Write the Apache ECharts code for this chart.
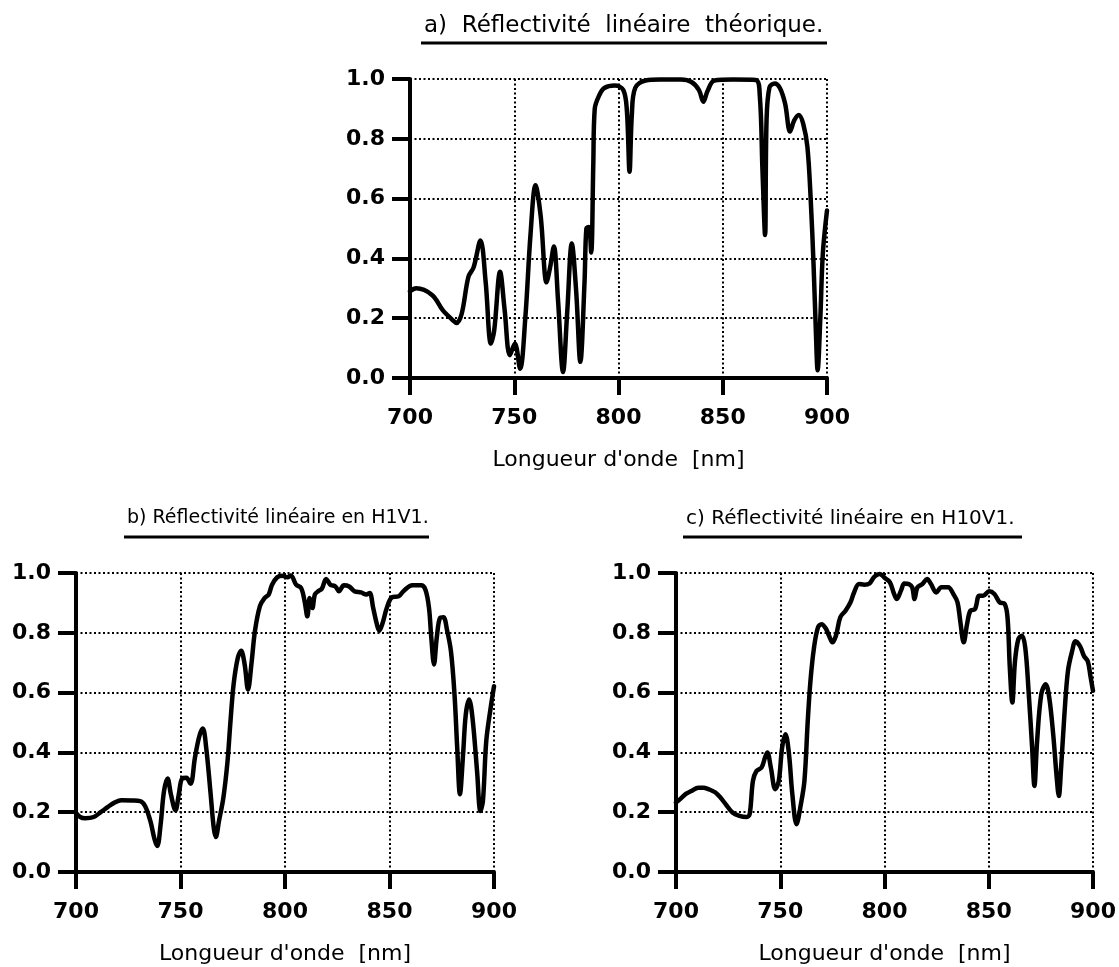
<!DOCTYPE html>
<html>
<head>
<meta charset="utf-8">
<script src="https://cdn.jsdelivr.net/npm/echarts@6/dist/echarts.min.js"></script>
<style>
    html, body { margin: 0; padding: 0; background: #fff; }
    #chart { width: 1119px; height: 967px; }
</style>
</head>
<body>
<div id="chart"></div>
<script>
// wavelength axis ticks (nm) and reflectivity ticks
var waveTicks = [700, 750, 800, 850, 900];
var reflTicks = [0.0, 0.2, 0.4, 0.6, 0.8, 1.0];

// a) theoretical linear reflectivity
var waveA = [700, 703, 710.7, 715.7, 720.6, 722.3, 724.8, 728, 730.5, 733.8, 736.3, 738.8, 740.4, 743.2, 745.4,
    747.9, 750.3, 752.8, 755.3, 757.8, 760.2, 762.7, 765.5, 767.2, 769, 771, 773.4, 775.4, 777.6, 779.7,
    781.7, 783.7, 784.6, 785.8, 786.9, 787.9, 788.6, 790.8, 793.2, 798.2, 802.3, 804, 805.3, 806.4, 808,
    813, 820, 830, 835, 838.6, 840.7, 842.7, 846, 855, 865.8, 867.8, 869, 870.3, 871, 872.4,
    874.9, 877.4, 879.9, 882.3, 884.3, 886.5, 888.6, 890.6, 892.2, 893.6, 894.7, 895.5, 896.8, 898, 900];
var reflA = [0.29, 0.30, 0.277, 0.227, 0.193, 0.184, 0.215, 0.338, 0.37, 0.46, 0.32, 0.115, 0.16, 0.355, 0.227,
    0.076, 0.115, 0.031, 0.20, 0.48, 0.645, 0.54, 0.32, 0.37, 0.44, 0.26, 0.02, 0.22, 0.45, 0.29,
    0.054, 0.32, 0.50, 0.505, 0.42, 0.71, 0.90, 0.946, 0.97, 0.978, 0.963, 0.896, 0.69, 0.88, 0.97,
    0.995, 0.998, 0.998, 0.99, 0.963, 0.924, 0.96, 0.995, 0.998, 0.997, 0.94, 0.706, 0.478, 0.86, 0.972,
    0.985, 0.97, 0.918, 0.824, 0.862, 0.88, 0.85, 0.773, 0.595, 0.37, 0.148, 0.026, 0.20, 0.416, 0.56];

// b) linear reflectivity in H1V1
var waveB = [700, 702, 704.4, 708.5, 711.8, 715.1, 718.4, 721.7, 726.6, 730.7, 733.1, 735.6, 737.6, 738.9, 740.5,
    742.1, 743.8, 745.4, 747.6, 749.2, 750.8, 752.8, 754.8, 756.9, 759, 760.7, 762.3, 764.3, 765.9, 766.9,
    768.4, 770.5, 772.5, 773.8, 775.4, 777.4, 779, 780.7, 782.3, 784, 785.6, 788, 790.2, 792.2, 793.8,
    796.3, 798.7, 801.2, 802.8, 805.3, 807.7, 809.4, 810.7, 811.8, 813.1, 814.3, 815.9, 817.6, 819.7, 821.7,
    824.1, 825.8, 828.2, 830.7, 833.2, 836.4, 838.9, 840.5, 842.2, 843.8, 845.1, 846.6, 848.7, 851.2, 854.4,
    856.9, 861, 865.1, 867.2, 868.9, 870, 871.3, 872.6, 874.2, 875.8, 877.5, 879.4, 881.1, 882.4, 883.7,
    885.2, 886.5, 888.1, 889.7, 891.9, 893.5, 894.7, 896.3, 898.4, 900];
var reflB = [0.198, 0.184, 0.18, 0.184, 0.20, 0.217, 0.232, 0.24, 0.239, 0.237, 0.22, 0.17, 0.109, 0.087, 0.16,
    0.27, 0.313, 0.26, 0.206, 0.26, 0.313, 0.315, 0.295, 0.382, 0.454, 0.48, 0.415, 0.27, 0.148, 0.117,
    0.17, 0.248, 0.37, 0.493, 0.627, 0.716, 0.74, 0.694, 0.61, 0.70, 0.805, 0.889, 0.916, 0.928, 0.961,
    0.986, 0.991, 0.986, 0.992, 0.961, 0.95, 0.905, 0.855, 0.916, 0.883, 0.928, 0.939, 0.947, 0.98, 0.961,
    0.955, 0.939, 0.959, 0.955, 0.939, 0.935, 0.928, 0.933, 0.883, 0.833, 0.807, 0.83, 0.883, 0.919, 0.922,
    0.941, 0.959, 0.959, 0.944, 0.883, 0.783, 0.694, 0.783, 0.85, 0.852, 0.81, 0.738, 0.594, 0.415, 0.26,
    0.393, 0.527, 0.577, 0.516, 0.337, 0.204, 0.237, 0.438, 0.549, 0.621];

// c) linear reflectivity in H10V1
var waveC = [700, 702.5, 704.9, 707.4, 710.7, 713.1, 715.6, 718.9, 721.3, 723.8, 727.1, 730.4, 733.7, 735.3, 736.9,
    738.6, 741, 742.7, 743.8, 745.5, 747.6, 749.3, 750.9, 752.5, 754.2, 755.8, 757.8, 759.9, 761.6, 763.2,
    764.5, 766.2, 768.1, 769.8, 771.8, 773.4, 775, 776.7, 778.8, 781.3, 783.7, 785.4, 787.8, 790.3, 792.8,
    795.2, 797.7, 800.2, 802.6, 804.6, 805.9, 807.9, 809.5, 811.7, 813.3, 814.4, 815.8, 818.2, 820.4, 822.3,
    824.8, 827.3, 830.5, 833, 835, 836.3, 838, 839.6, 841.2, 843.4, 845.4, 847.3, 850.2, 852.7, 855.2,
    857.6, 859, 860.1, 861.3, 862.6, 864.2, 865.9, 867.5, 869.1, 870.8, 871.9, 873.2, 875.2, 877.3, 879,
    880.9, 882.6, 883.6, 884.7, 886.3, 888, 890, 891.6, 893.8, 895.7, 897.5, 898.8, 900];
var reflC = [0.232, 0.247, 0.262, 0.271, 0.282, 0.282, 0.277, 0.266, 0.249, 0.227, 0.199, 0.188, 0.184, 0.193, 0.305,
    0.338, 0.349, 0.383, 0.40, 0.349, 0.277, 0.305, 0.416, 0.461, 0.394, 0.26, 0.16, 0.227, 0.305, 0.506,
    0.64, 0.751, 0.818, 0.829, 0.815, 0.79, 0.768, 0.79, 0.852, 0.874, 0.902, 0.935, 0.963, 0.961, 0.965,
    0.988, 0.997, 0.983, 0.969, 0.93, 0.913, 0.941, 0.965, 0.963, 0.952, 0.913, 0.952, 0.963, 0.98, 0.963,
    0.935, 0.952, 0.952, 0.93, 0.902, 0.841, 0.768, 0.829, 0.874, 0.879, 0.924, 0.924, 0.939, 0.93, 0.902,
    0.897, 0.852, 0.684, 0.567, 0.706, 0.779, 0.79, 0.751, 0.606, 0.416, 0.288, 0.439, 0.595, 0.628, 0.584,
    0.461, 0.316, 0.254, 0.349, 0.528, 0.673, 0.739, 0.772, 0.755, 0.722, 0.705, 0.654, 0.606];

var titles = ['a)  Réflectivité  linéaire  théorique.', 'b) Réflectivité linéaire en H1V1.', 'c) Réflectivité linéaire en H10V1.'];
var axisName = "Longueur d'onde  [nm]";

function pairs(xs, ys) {
    var out = [];
    for (var i = 0; i < xs.length; i++) {
        out.push([xs[i], ys[i]]);
    }
    return out;
}

var labelFont = { color: '#000', fontFamily: 'DejaVu Sans', fontWeight: 'bold', fontSize: 22 };
var dots = { color: '#000', width: 2, type: [2, 2.5] };

function makeX(idx) {
    return {
        gridIndex: idx,
        type: 'value',
        min: waveTicks[0],
        max: waveTicks[waveTicks.length - 1],
        interval: 50,
        name: axisName,
        nameLocation: 'middle',
        nameGap: 71,
        nameTextStyle: { color: '#000', fontFamily: 'DejaVu Sans', fontSize: 22 },
        axisLine: { show: true, lineStyle: { color: '#000', width: 4 } },
        axisTick: { show: true, inside: false, length: 17, lineStyle: { color: '#000', width: 4 } },
        axisLabel: Object.assign({ margin: 29 }, labelFont),
        splitLine: { show: true, lineStyle: dots }
    };
}

function makeY(idx) {
    return {
        gridIndex: idx,
        type: 'value',
        min: reflTicks[0],
        max: reflTicks[reflTicks.length - 1],
        interval: 0.2,
        axisLine: { show: true, lineStyle: { color: '#000', width: 4 } },
        axisTick: { show: true, inside: false, length: 18, lineStyle: { color: '#000', width: 4 } },
        axisLabel: Object.assign({
            margin: 25,
            formatter: function (v) { return v.toFixed(1); }
        }, labelFont),
        splitLine: { show: true, lineStyle: dots }
    };
}

function makeSeries(idx, xs, ys) {
    return {
        type: 'line',
        xAxisIndex: idx,
        yAxisIndex: idx,
        data: pairs(xs, ys),
        smooth: 0.35,
        showSymbol: false,
        symbol: 'none',
        clip: true,
        lineStyle: { color: '#000', width: 4.5, join: 'round', cap: 'round' },
        z: 5
    };
}

function makeTitle(text, left, top, size) {
    return {
        text: text,
        left: left,
        top: top,
        padding: 0,
        textStyle: { color: '#000', fontFamily: 'DejaVu Sans', fontWeight: 'normal', fontSize: size }
    };
}

function underline(x1, x2, y) {
    return {
        type: 'line',
        shape: { x1: x1, y1: y, x2: x2, y2: y },
        style: { stroke: '#000', lineWidth: 3 }
    };
}

var myChart = echarts.init(document.getElementById('chart'), null, { renderer: 'canvas' });

var option = {
    backgroundColor: '#fff',
    animation: false,
    title: [
        makeTitle(titles[0], 424, 15, 23),
        makeTitle(titles[1], 127, 509, 19),
        makeTitle(titles[2], 686, 509, 20)
    ],
    graphic: [
        underline(421, 827, 43),
        underline(124, 429, 537),
        underline(683, 1022, 537)
    ],
    grid: [
        { left: 410, top: 79, width: 417, height: 299 },
        { left: 76, top: 573, width: 418, height: 299 },
        { left: 676, top: 573, width: 417, height: 299 }
    ],
    xAxis: [makeX(0), makeX(1), makeX(2)],
    yAxis: [makeY(0), makeY(1), makeY(2)],
    series: [
        makeSeries(0, waveA, reflA),
        makeSeries(1, waveB, reflB),
        makeSeries(2, waveC, reflC)
    ]
};

myChart.setOption(option);
</script>
</body>
</html>
